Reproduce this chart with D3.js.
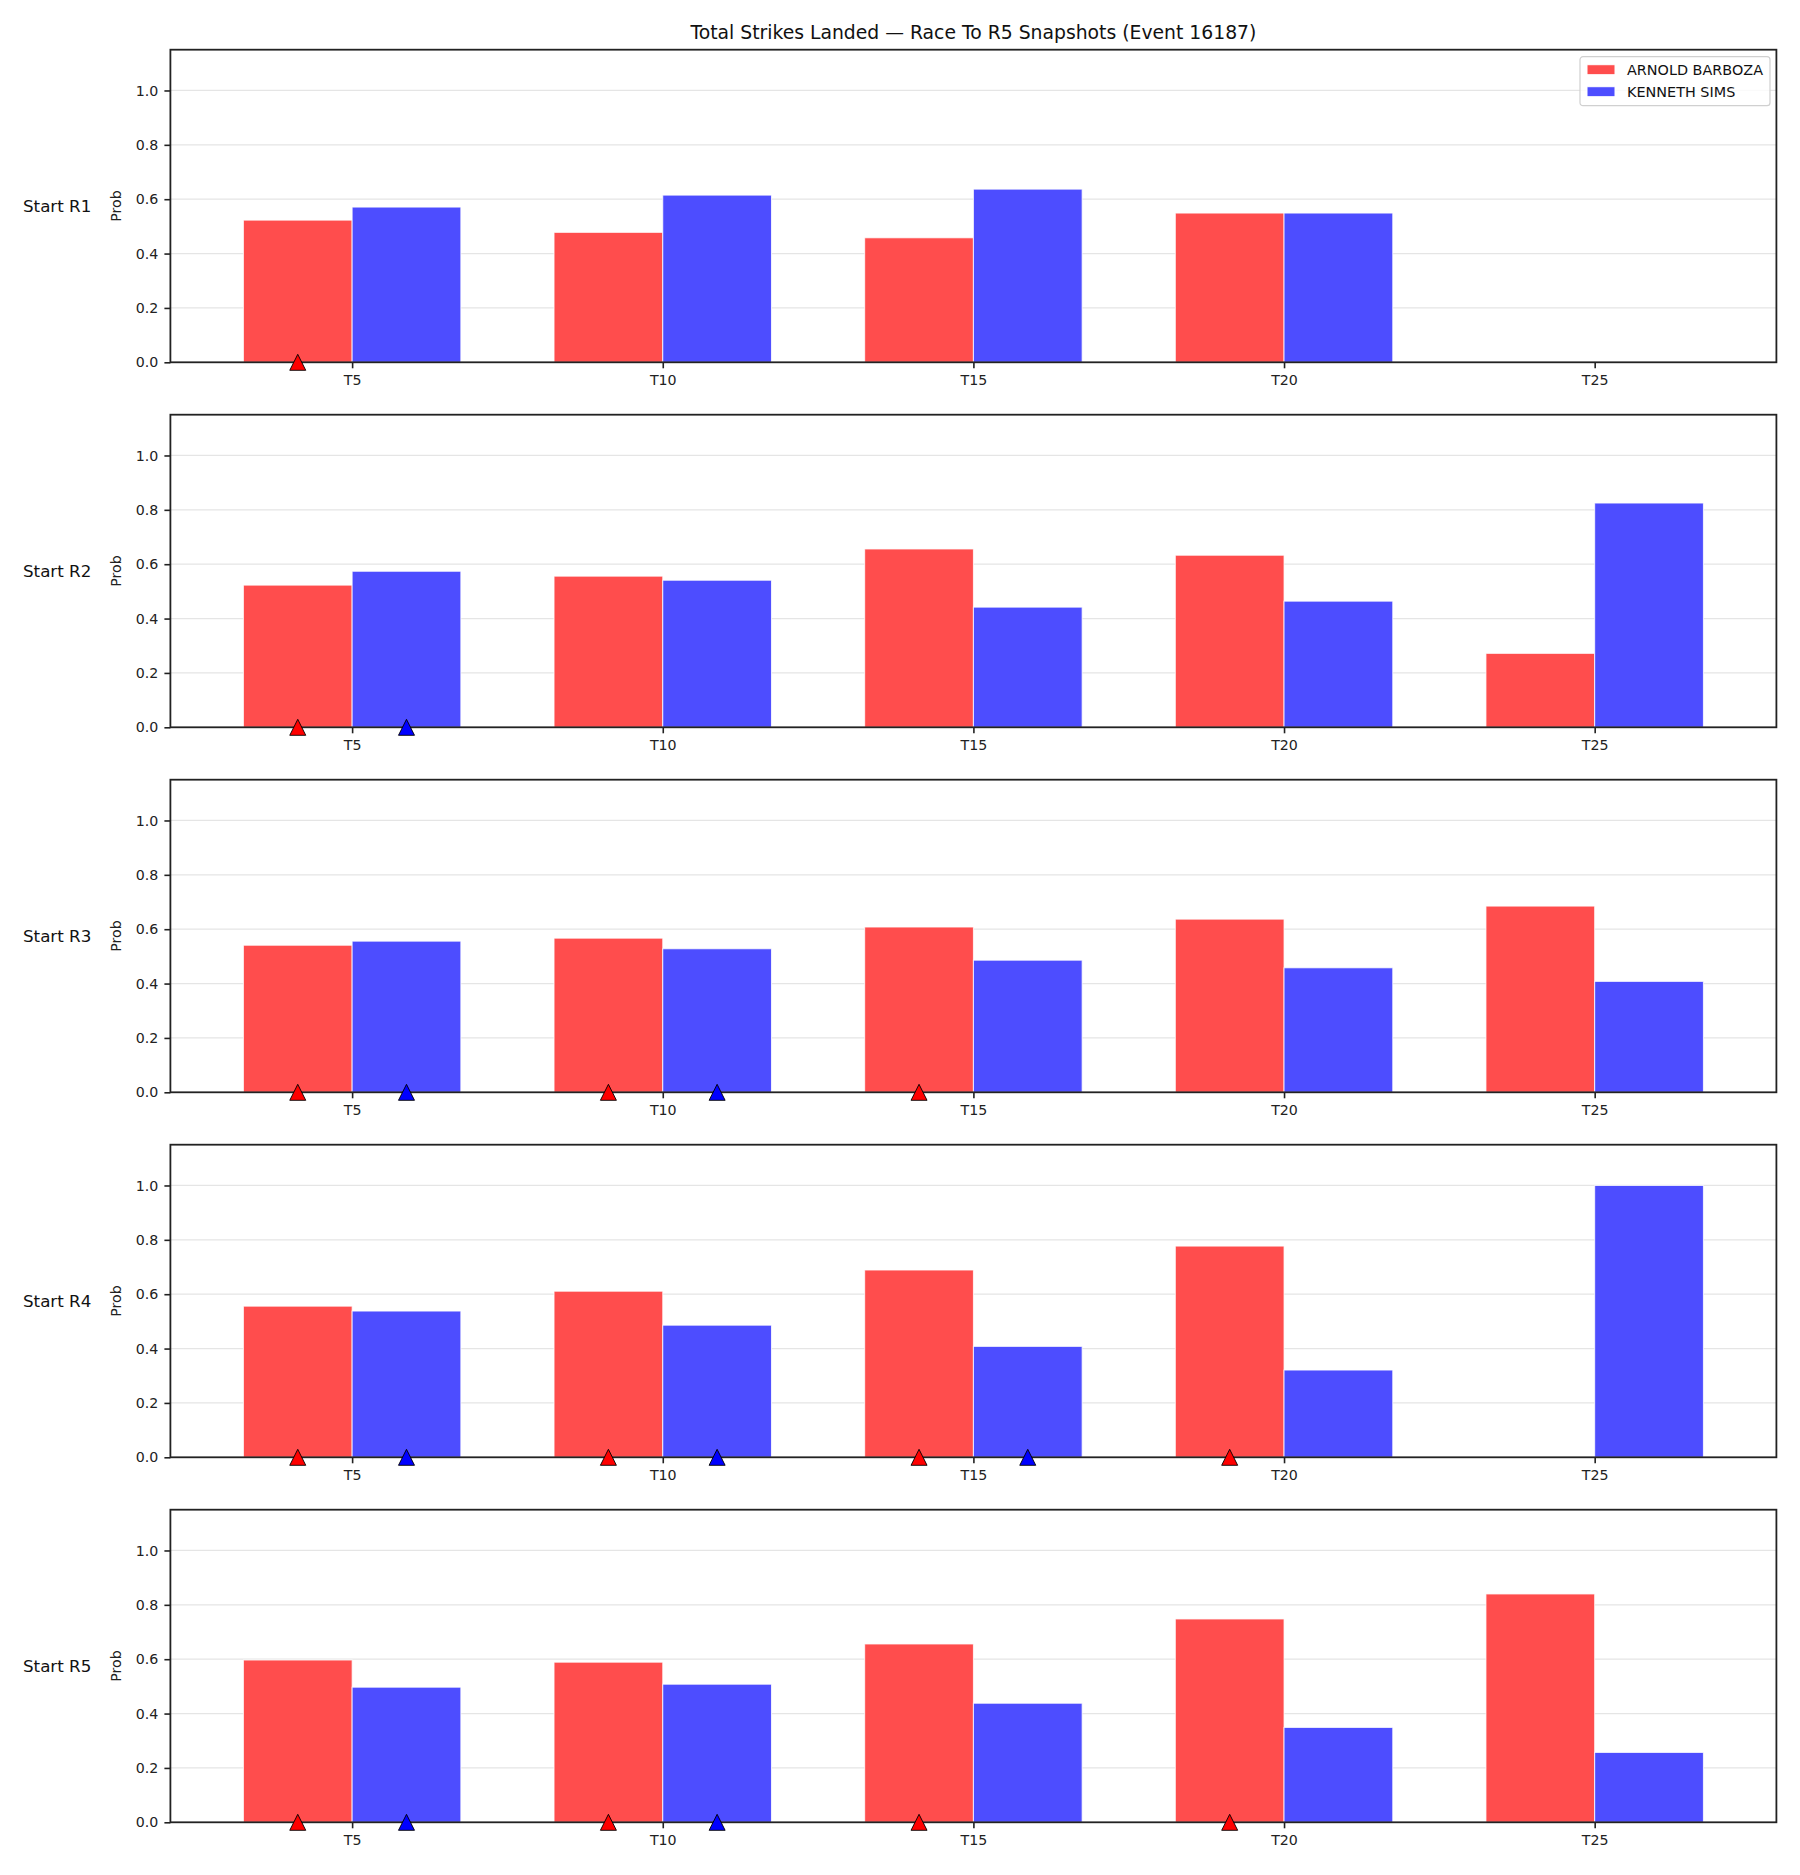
<!DOCTYPE html>
<meta charset="utf-8">
<style>
body, html {
  padding: 0;
  margin: 0;
  background: #fff;
}
svg {
  display: block;
  font-family: "DejaVu Sans", sans-serif;
}
.tick text {
  font-size: 14.2px;
  fill: #222;
}
</style>
<body>
<script src="https://cdn.jsdelivr.net/npm/d3@7/dist/d3.min.js"></script>
<script>

var width = 1800,
    height = 1875

var title = "Total Strikes Landed \u2014 Race To R5 Snapshots (Event 16187)"
var thresholds = ["T5", "T10", "T15", "T20", "T25"]
var rounds = ["Start R1", "Start R2", "Start R3", "Start R4", "Start R5"]
var fighters = ["ARNOLD BARBOZA", "KENNETH SIMS"]
var yTicks = [0, 0.2, 0.4, 0.6, 0.8, 1.0]

// probability of reaching each threshold, one row per snapshot (null = no bar)
var barbozaProb = [
  [0.523, 0.478, 0.458, 0.549, null],
  [0.523, 0.556, 0.656, 0.633, 0.272],
  [0.541, 0.567, 0.608, 0.637, 0.685],
  [0.556, 0.611, 0.689, 0.777, null],
  [0.597, 0.589, 0.656, 0.748, 0.840]
]
var simsProb = [
  [0.571, 0.615, 0.637, 0.549, null],
  [0.574, 0.541, 0.442, 0.464, 0.825],
  [0.556, 0.528, 0.486, 0.458, 0.408],
  [0.538, 0.486, 0.408, 0.321, 1.000],
  [0.497, 0.508, 0.438, 0.349, 0.257]
]
// thresholds already reached at the snapshot (triangle markers)
var barbozaHit = [
  [1, 0, 0, 0, 0],
  [1, 0, 0, 0, 0],
  [1, 1, 1, 0, 0],
  [1, 1, 1, 1, 0],
  [1, 1, 1, 1, 0]
]
var simsHit = [
  [0, 0, 0, 0, 0],
  [1, 0, 0, 0, 0],
  [1, 1, 0, 0, 0],
  [1, 1, 1, 0, 0],
  [1, 1, 0, 0, 0]
]

var series = [
  {name: fighters[0], prob: barbozaProb, hit: barbozaHit, off: -0.175, bar: "rgb(255,77,77)", mark: "#ff0000"},
  {name: fighters[1], prob: simsProb, hit: simsHit, off: 0.175, bar: "rgb(77,77,255)", mark: "#0000ff"}
]

var barWidth = 0.35,
    left = 170.4,
    right = 1776.4,
    top0 = 49.7,
    panelH = 312.6,
    step = 365

var svg = d3.select("body").append("svg")
    .attr("width", width)
    .attr("height", height)

svg.append("rect").attr("width", width).attr("height", height).attr("fill", "#fff")

svg.append("text")
    .attr("x", (left + right) / 2)
    .attr("y", 38.5)
    .attr("text-anchor", "middle")
    .attr("font-size", "18.8px")
    .attr("fill", "#111")
    .text(title)

var x = d3.scaleLinear()
    .domain([-0.585, 4.585])
    .range([left, right])

var y = d3.scaleLinear()
    .domain([0, 1.15])
    .range([panelH, 0])

rounds.forEach(function (label, r) {
  var g = svg.append("g")
      .attr("transform", "translate(0," + (top0 + r * step) + ")")

  // grid
  g.append("g").selectAll("line")
      .data(yTicks)
      .enter().append("line")
      .attr("x1", left).attr("x2", right)
      .attr("y1", function (d) { return y(d) }).attr("y2", function (d) { return y(d) })
      .attr("stroke", "#e5e5e5")
      .attr("stroke-width", 1.2)

  // bars
  series.forEach(function (s) {
    var vals = thresholds.map(function (t, i) { return {i: i, v: s.prob[r][i]} })
        .filter(function (d) { return d.v != null })
    g.append("g").selectAll("rect")
        .data(vals)
        .enter().append("rect")
        .attr("x", function (d) { return x(d.i + s.off - barWidth / 2) })
        .attr("width", x(barWidth) - x(0))
        .attr("y", function (d) { return y(d.v) })
        .attr("height", function (d) { return y(0) - y(d.v) })
        .attr("fill", s.bar)
        .attr("stroke", "#fff")
        .attr("stroke-opacity", 0.8)
        .attr("stroke-width", 1)
  })

  // axes
  var ya = g.append("g")
      .attr("transform", "translate(" + left + ",0)")
      .call(d3.axisLeft(y).tickValues(yTicks).tickFormat(d3.format(".1f")).tickSize(6).tickPadding(6).tickSizeOuter(0))
  var xa = g.append("g")
      .attr("transform", "translate(0," + panelH + ")")
      .call(d3.axisBottom(x).tickValues(d3.range(thresholds.length))
        .tickFormat(function (i) { return thresholds[i] }).tickSize(6).tickPadding(7).tickSizeOuter(0))
  ;[ya, xa].forEach(function (a) {
    a.select(".domain").remove()
    a.selectAll(".tick line").attr("stroke", "#222").attr("stroke-width", 1.6)
    a.attr("font-family", null).attr("font-size", null)
  })

  // frame
  g.append("rect")
      .attr("x", left).attr("y", 0)
      .attr("width", right - left).attr("height", panelH)
      .attr("fill", "none")
      .attr("stroke", "#222")
      .attr("stroke-width", 1.8)

  // reached markers
  series.forEach(function (s) {
    var pts = thresholds.map(function (t, i) { return i }).filter(function (i) { return s.hit[r][i] })
    g.append("g").selectAll("path")
        .data(pts)
        .enter().append("path")
        .attr("transform", function (i) { return "translate(" + x(i + s.off) + "," + y(0) + ")" })
        .attr("d", "M0,-8L8,8L-8,8Z")
        .attr("fill", s.mark)
        .attr("stroke", "#000")
        .attr("stroke-width", 0.9)
  })

  g.append("text")
      .attr("transform", "translate(121," + (panelH / 2) + ") rotate(-90)")
      .attr("text-anchor", "middle")
      .attr("font-size", "14.2px")
      .attr("fill", "#222")
      .text("Prob")

  g.append("text")
      .attr("x", 23)
      .attr("y", panelH / 2 + 6)
      .attr("font-size", "16.7px")
      .attr("fill", "#111")
      .text(label)

  if (r === 0) {
    var lg = g.append("g").attr("transform", "translate(1580,7)")
    lg.append("rect")
        .attr("width", 190).attr("height", 49)
        .attr("rx", 3)
        .attr("fill", "#fff").attr("fill-opacity", 0.8)
        .attr("stroke", "#d0d0d0")
        .attr("stroke-width", 1.2)
    series.forEach(function (s, k) {
      lg.append("rect")
          .attr("x", 7).attr("y", 8 + k * 22)
          .attr("width", 28).attr("height", 10)
          .attr("fill", s.bar)
          .attr("stroke", "#fff").attr("stroke-width", 1)
      lg.append("text")
          .attr("x", 47).attr("y", 18 + k * 22)
          .attr("font-size", "14.4px")
          .attr("fill", "#111")
          .text(s.name)
    })
  }
})

</script>
</body>
